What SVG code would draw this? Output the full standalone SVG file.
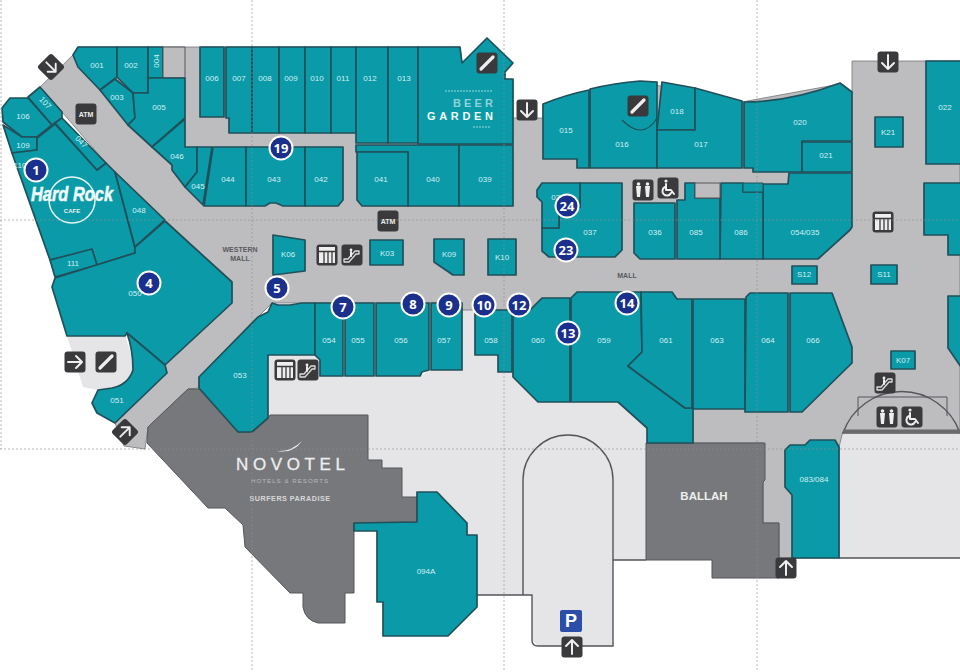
<svg xmlns="http://www.w3.org/2000/svg" width="960" height="672" viewBox="0 0 960 672">
<style>
.shop{fill:#0a9aa8;stroke:#20505a;stroke-width:1.7;stroke-linejoin:round}
.mall{fill:#bdbdc0;stroke:#77777b;stroke-width:.8}
.light{fill:#e5e5e7}
.edge{fill:none;stroke:#55565a;stroke-width:1.4}
.bldg{fill:#77787b;stroke:#55565a;stroke-width:1}
.l{font:500 8px "Liberation Sans",Arial,sans-serif;fill:#dff6f8;text-anchor:middle;dominant-baseline:central;opacity:.95}
.d{font:700 7px "Liberation Sans",Arial,sans-serif;fill:#59595c;text-anchor:middle}
.n{fill:#1b2f8c;stroke:#fff;stroke-width:2}
.nt{font:700 13px "Open Sans","Liberation Sans",sans-serif;fill:#fff;text-anchor:middle;dominant-baseline:central}
.w{fill:#eee;text-anchor:middle;font-family:"Liberation Sans",Arial,sans-serif}
.g{fill:none;stroke:#8c8c90;stroke-width:1;stroke-dasharray:2 2;opacity:.6}
.ic{fill:#3a3a3d}
.gl{fill:none;stroke:#eee;stroke-width:2;stroke-linecap:round;stroke-linejoin:round}
.gf{fill:#eee}
</style>
<defs>
<rect id="sq" class="ic" x="-10.5" y="-10.5" width="21" height="21" rx="3"/>
<g id="i-down"><use href="#sq"/><path class="gl" d="M0-7V7M-6,1L0,7L6,1"/></g>
<g id="i-up"><use href="#sq"/><path class="gl" d="M0,7V-7M-6,-1L0,-7L6,-1"/></g>
<g id="i-right"><use href="#sq"/><path class="gl" d="M-7,0H7M1,-6L7,0L1,6"/></g>
<g id="i-slash"><use href="#sq"/><path fill="none" stroke="#eee" stroke-width="3.2" stroke-linecap="round" d="M-6,6L6,-6"/></g>
<g id="i-esc"><use href="#sq"/><path fill="none" stroke="#ddd" stroke-width="1.3" stroke-linejoin="round" d="M-8,4H-4L3,-4H7V-1H4L-3,7H-8Z"/><circle class="gf" cx="-1" cy="-5" r="1.4"/><path class="gl" stroke-width="1.3" d="M-1-3V1"/></g>
<g id="i-wc"><use href="#sq"/><circle class="gf" cx="-4.5" cy="-6" r="1.8"/><circle class="gf" cx="4.5" cy="-6" r="1.8"/><path class="gf" d="M-7-4H-2L-3,7H-6ZM2-4H7L6,7H3Z"/></g>
<g id="i-acc"><use href="#sq"/><circle class="gf" cx="-2" cy="-7" r="1.6"/><path class="gl" stroke-width="1.5" d="M-2-4V2H3L6,6M-3,-1A4.5,4.5,0,1,0,3,5"/></g>
<g id="i-lift"><rect class="ic" x="-10.5" y="-10.5" width="21" height="21" rx="3"/><rect x="-8" y="-8" width="16" height="16" fill="#eee"/><path stroke="#3a3a3d" stroke-width="1.3" d="M-8-3.5H8M-3-3V8M1-3V8M5-3V8"/></g>
<g id="i-atm"><use href="#sq"/><text class="w" y="2.5" font-size="7" font-weight="700">ATM</text></g>
</defs>

<rect width="960" height="672" fill="#fff"/>

<g id="ground">
<path class="light" d="M67,336H125L130,350L133,370Q128,385 112,388L98,390L83,387Z"/>
<path class="light" d="M268,355H320V376H420L430,370H462V310H475V354H497V372H560V400H646V560H613V595H420V510H360V415H268Z"/>
<path class="light" d="M532,590H613V646H538L532,640Z"/>
<rect class="light" x="838" y="428" width="122" height="130"/>
<path class="mall" d="M40,87L73,55L78,47H460L462,63H487L505,79L513,80V118H543V104L640,82L742,102L840,84L852,92V61H960V431H843L839,447V558H779V523H763V443H693V310H513H462V303H272L258,317L199,377V388L188,389L148,427L145,449L124,446L115,423L167,373L165,365L232,303V282L165,220L115,172L106,163L62,112Z"/>
<path class="edge" d="M490,595H532V640Q532,646 538,646H613V560H646M523,595V480A45,45,0,0,1,613,480V560M477,595H490M839,558H960"/>
<path fill="#bdbdc0" stroke="#55565a" stroke-width="1.4" d="M843,433A62,62,0,0,1,960,433Z"/>
<path fill="none" stroke="#6a6a6d" stroke-width="3" d="M843,431H960"/>
<path fill="none" stroke="#55565a" stroke-width="1" d="M858,416V397H947V416"/>
</g>

<g id="buildings">
<path class="bldg" id="novotel" d="M148,427L188,389H199L238,432H252L268,418L270,415H368V460H382V468H402V497H417V522L354,523V593H345V623H318Q305,620 303,607V593H290L245,547L243,525L225,508H208L147,443Z"/>
<path class="bldg" id="ballah" d="M646,443H765V480L763,482V523H779V578H712V560H646Z"/>
</g>

<g id="shops">
<path class="shop" id="s001" d="M73,55L78,47H117V77L100,90L78,67Z"/>
<path class="shop" id="s002" d="M117,47H148V93H133L117,77Z"/>
<path class="shop" id="s004" d="M148,47H163V78H148Z"/>
<path fill="#bdbdc0" stroke="#55565a" d="M163,47H185V78H163Z"/>
<path class="shop" id="s003" d="M100,90L115,79L133,93L135,118L128,125Z"/>
<path class="shop" id="s005" d="M133,93H148V78H185V118L152,147L128,125L135,118Z"/>
<path class="shop" id="s046" d="M152,147L185,119V147H197V172L185,187L172,170V165Z"/>
<path class="shop" id="s045" d="M197,147H212L203,205L185,187L197,172Z"/>
<path class="shop" id="s044" d="M213,147H246V206H204Z"/>
<path class="shop" id="s043" d="M246,147H305V206H283L276,203H270L265,206H246Z"/>
<path class="shop" id="s042" d="M305,147H343V200L338,206H305Z"/>
<path class="shop" id="s006" d="M200,47H224V117H200Z"/>
<path class="shop" id="s007" d="M226,47H252V133H229V118H226Z"/>
<path class="shop" id="s008" d="M252,47H279V133H252Z"/>
<path class="shop" id="s009" d="M279,47H305V133H279Z"/>
<path class="shop" id="s010" d="M305,47H331V133H305Z"/>
<path class="shop" id="s011" d="M331,47H356V133H331Z"/>
<path class="shop" id="s012" d="M356,47H388V143H356Z"/>
<path class="shop" id="s013" d="M388,47H418V143H388Z"/>
<path class="shop" id="beer-garden" d="M418,47H460L462,63L487,38L513,63L505,72V79H513V144H418Z"/>
<path class="shop" id="s040" d="M356,145H459V206H408V152H356Z"/>
<path class="shop" id="s041" d="M357,152H408V206H362L357,200Z"/>
<path class="shop" id="s039" d="M459,145H513V206H459Z"/>
<path class="shop" id="s015" d="M543,104Q565,95 589,90V168H577V159H543Z"/>
<path class="shop" id="s016" d="M590,89Q615,83 640,81L657,82V168H590Z"/>
<path class="shop" id="s018" d="M662,82L695,88V130H657Z"/>
<path class="shop" id="s017" d="M657,130H695V88L742,101V168H657Z"/>
<path class="shop" id="s020" d="M744,102Q790,102 840,83L852,92V141H802V172H753V168H744Z"/>
<path class="shop" id="s021" d="M802,142H852V172H802Z"/>
<path class="shop" id="s054-035" d="M789,173H852V227L850,230L818,259H763V184H788Z"/>
<path class="shop" id="s086" d="M721,183H743V192H763V259H720Z"/>
<path fill="#0a9aa8" stroke="#20505a" d="M743,183H763V192H743Z"/>
<path class="shop" id="s085" d="M677,200H685V183H695V198H720V259H677Z"/>
<path fill="#bdbdc0" stroke="#55565a" d="M695,183H720V198H695Z"/>
<path class="shop" id="s036" d="M634,203H675V259H640L634,253Z"/>
<path class="shop" id="s037" d="M580,183H622V250L615,257H549L542,251V228H559V215L580,207Z"/>
<path class="shop" id="s038" d="M542,183H580V207L559,215V228H542V202L537,197V190Z"/>
<path class="shop" id="k21" d="M875,117H903V147H875Z"/>
<path class="shop" id="s022" d="M926,61H961V164H926Z"/>
<path class="shop" id="e1" d="M924,183H961V255H948V235H924Z"/>
<path class="shop" id="e2" d="M948,296H961V367L948,348Z"/>
<path class="shop" id="k06" d="M273,235L305,240V271L273,275Z"/>
<path class="shop" id="k03" d="M370,240H403V265H370Z"/>
<path class="shop" id="k09" d="M434,239H464V275H453L434,262Z"/>
<path class="shop" id="k10" d="M488,239H516V275H488Z"/>
<path class="shop" id="s12" d="M792,266H817V284H792Z"/>
<path class="shop" id="s11" d="M871,265H897V284H871Z"/>
<path class="shop" id="k07" d="M891,351H915V369H891Z"/>
<path class="shop" id="s106" d="M2,108L10,98H28L52,125L37,137H22L3,122Z"/>
<path class="shop" id="s107" d="M28,97L40,87L62,112V118L52,125Z"/>
<path class="shop" id="s109" d="M3,125L22,137H37V150L12,153Z"/>
<path class="shop" id="hard-rock" d="M12,153L37,150V138L55,124L97,170L106,163L115,172L135,248V253L97,265L92,250L50,260Z"/>
<path class="shop" id="s047" d="M55,123L62,118L106,163L97,170Z"/>
<path class="shop" id="s111" d="M50,260L92,249L97,265L55,277Z"/>
<path class="shop" id="s048" d="M115,172L165,220L135,247Z"/>
<path class="shop" id="s050" d="M135,253V247L165,221L232,282V303L165,365L127,333L125,336H67L52,287L55,278Z"/>
<path class="shop" id="s051" d="M127,333L165,365L167,373L115,423L97,413L92,403L98,390L112,388Q128,385 133,370Q133,350 127,333Z"/>
<path class="shop" id="s053" d="M272,303L278,305H290L302,303H315V355H268V418L252,432H238L199,388V377L258,317L268,312Z"/>
<path class="shop" id="s054" d="M315,303H343V376H320V360L315,355Z"/>
<path class="shop" id="s055" d="M345,303H374V376H345Z"/>
<path class="shop" id="s056" d="M376,303H429V370L422,372L420,376H376Z"/>
<path class="shop" id="s057" d="M431,303H462V370H431Z"/>
<path class="shop" id="s058" d="M475,310H512V372H498V355H475Z"/>
<path class="shop" id="s060" d="M513,310H530L542,298H570V402H538L513,377Z"/>
<path class="shop" id="s059" d="M571,298L577,292H641L642,352L628,366L685,408H693V443H647V428L618,402H571Z"/>
<path class="shop" id="s061" d="M641,292H672L677,299H692V408H685L640,375L628,366L642,352Z"/>
<path class="shop" id="s063" d="M693,299H745V409H693Z"/>
<path class="shop" id="s064" d="M746,297L750,293H788V412H745Z"/>
<path class="shop" id="s066" d="M790,293H832L852,347V363L802,412H790Z"/>
<path class="shop" id="s083-084" d="M785,450L790,445H805L810,440H835L839,447V558H792V495L785,487Z"/>
<path class="shop" id="s094a" d="M417,492H437L467,523V535H477V607L448,636H383V602H377V531H354V523L417,522Z"/>
<path fill="none" stroke="#20505a" stroke-width="1.2" d="M622,120Q632,130 640,130Q650,130 657,118"/>
</g>

<g id="labels">
<text class="l" x="97" y="65">001</text><text class="l" x="131" y="65">002</text>
<text class="l" transform="translate(156,61) rotate(-90)">004</text>
<text class="l" x="117" y="97">003</text><text class="l" x="159" y="107">005</text><text class="l" x="177" y="156">046</text>
<text class="l" x="198" y="186">045</text><text class="l" x="228" y="179">044</text><text class="l" x="274" y="179">043</text><text class="l" x="321" y="179">042</text>
<text class="l" transform="translate(81,142) rotate(48)">047</text><text class="l" transform="translate(45,103) rotate(48)">107</text>
<text class="l" x="23" y="116">106</text><text class="l" x="23" y="145">109</text><text class="l" x="20" y="165">110</text>
<text class="l" x="139" y="210">048</text><text class="l" x="73" y="263">111</text><text class="l" x="135" y="293">050</text>
<text class="l" x="212" y="78">006</text><text class="l" x="239" y="78">007</text><text class="l" x="265" y="78">008</text><text class="l" x="291" y="78">009</text>
<text class="l" x="317" y="78">010</text><text class="l" x="343" y="78">011</text><text class="l" x="370" y="78">012</text><text class="l" x="404" y="78">013</text>
<text class="l" x="566" y="130">015</text><text class="l" x="622" y="144">016</text><text class="l" x="677" y="111">018</text><text class="l" x="701" y="144">017</text>
<text class="l" x="800" y="122">020</text><text class="l" x="826" y="155">021</text><text class="l" x="945" y="107">022</text><text class="l" x="888" y="132">K21</text>
<text class="l" x="381" y="179">041</text><text class="l" x="433" y="179">040</text><text class="l" x="485" y="179">039</text>
<text class="l" x="558" y="197">038</text><text class="l" x="590" y="232">037</text><text class="l" x="655" y="232">036</text>
<text class="l" x="696" y="232">085</text><text class="l" x="741" y="232">086</text><text class="l" x="805" y="232">054/035</text>
<text class="l" x="288" y="254">K06</text><text class="l" x="387" y="253">K03</text><text class="l" x="449" y="254">K09</text><text class="l" x="502" y="257">K10</text>
<text class="l" x="804" y="274">S12</text><text class="l" x="884" y="274">S11</text><text class="l" x="903" y="360">K07</text>
<text class="l" x="329" y="340">054</text><text class="l" x="358" y="340">055</text><text class="l" x="401" y="340">056</text><text class="l" x="444" y="340">057</text>
<text class="l" x="491" y="340">058</text><text class="l" x="538" y="340">060</text><text class="l" x="604" y="340">059</text><text class="l" x="666" y="340">061</text>
<text class="l" x="717" y="340">063</text><text class="l" x="768" y="340">064</text><text class="l" x="813" y="340">066</text>
<text class="l" x="240" y="375">053</text><text class="l" x="117" y="400">051</text><text class="l" x="814" y="479">083/084</text><text class="l" x="426" y="571">094A</text>
<text class="d" x="240" y="252">WESTERN</text><text class="d" x="240" y="261">MALL</text><text class="d" x="627" y="278">MALL</text>

<g id="hard-rock-logo">
<circle cx="72" cy="200" r="23" fill="none" stroke="#e8f8f9" stroke-width="1.5"/>
<text class="w" x="72" y="201" font-size="20" font-weight="700" font-style="italic" textLength="82" lengthAdjust="spacingAndGlyphs" stroke="#f2fbfc" stroke-width=".5" paint-order="stroke" style="fill:#f2fbfc">Hard Rock</text>
<text class="w" x="72" y="213" font-size="6" font-weight="700">CAFE</text>
</g>
<g id="beer-garden-logo">
<text class="w" x="473" y="107" font-size="11" textLength="40" font-weight="700" style="fill:#8fd3d9">BEER</text>
<text class="w" x="460" y="120" font-size="11" textLength="66" font-weight="700" style="fill:#f2fbfc">GARDEN</text>
<path d="M445,91H492M473,127H490" stroke="#9adbe0" stroke-width="1.2" stroke-dasharray="2 1" fill="none"/>
</g>
<g id="novotel-logo">
<path d="M277,451Q291,452 302,441Q293,454 277,451Z" fill="#eee"/>
<text class="w" x="290.500" y="470" font-size="17" textLength="109" stroke="#eee" stroke-width=".3">NOVOTEL</text>
<text class="w" x="290" y="483" font-size="6.2" letter-spacing="1" style="fill:#b9b9bc">HOTELS &amp; RESORTS</text>
<text class="w" x="290" y="501" font-size="7.2" letter-spacing=".5" font-weight="700" style="fill:#d8d8da">SURFERS PARADISE</text>
</g>
<text class="w" x="704" y="500" font-size="11.500" font-weight="700">BALLAH</text>
</g>

<g id="icons">
<use href="#i-down" transform="translate(51,67) rotate(-45) scale(.95)"/>
<use href="#i-atm" x="86" y="114"/>
<use href="#i-slash" x="487" y="63"/>
<use href="#i-down" x="527" y="110"/>
<use href="#i-slash" x="638" y="106"/>
<use href="#i-atm" x="388" y="221"/>
<use href="#i-lift" x="327" y="255"/><use href="#i-esc" x="352" y="255"/>
<use href="#i-wc" x="643" y="190"/><use href="#i-acc" x="668" y="188"/>
<use href="#i-down" x="888" y="62"/>
<use href="#i-lift" x="883" y="222"/>
<use href="#i-esc" x="885" y="383"/>
<use href="#i-wc" x="887" y="417"/><use href="#i-acc" x="912" y="417"/>
<use href="#i-right" x="75" y="362"/><use href="#i-slash" x="106" y="362"/>
<use href="#i-up" transform="translate(125,432) rotate(45) scale(.95)"/>
<use href="#i-lift" x="285" y="370"/><use href="#i-esc" x="308" y="370"/>
<use href="#i-up" x="786" y="568"/>
<use href="#i-up" x="572" y="647"/>
<g id="parking"><rect x="560" y="610" width="22" height="22" rx="2" fill="#2b4ea8"/><text class="w" x="571" y="627" font-size="18" font-weight="700" style="fill:#fff">P</text></g>
</g>

<g id="badges">
<g id="b1"><circle class="n" cx="36" cy="170" r="11.5"/><text class="nt" x="36" y="170">1</text></g>
<g id="b19"><circle class="n" cx="281" cy="148" r="11.5"/><text class="nt" x="281" y="148">19</text></g>
<g id="b24"><circle class="n" cx="567" cy="206" r="11.5"/><text class="nt" x="567" y="206">24</text></g>
<g id="b23"><circle class="n" cx="566" cy="250" r="11.5"/><text class="nt" x="566" y="250">23</text></g>
<g id="b4"><circle class="n" cx="149" cy="283" r="11.5"/><text class="nt" x="149" y="283">4</text></g>
<g id="b5"><circle class="n" cx="277" cy="288" r="11.5"/><text class="nt" x="277" y="288">5</text></g>
<g id="b7"><circle class="n" cx="343" cy="307" r="11.5"/><text class="nt" x="343" y="307">7</text></g>
<g id="b8"><circle class="n" cx="413" cy="304" r="11.5"/><text class="nt" x="413" y="304">8</text></g>
<g id="b9"><circle class="n" cx="449" cy="305" r="11.5"/><text class="nt" x="449" y="305">9</text></g>
<g id="b10"><circle class="n" cx="484" cy="305" r="11.5"/><text class="nt" x="484" y="305">10</text></g>
<g id="b12"><circle class="n" cx="519" cy="305" r="11.5"/><text class="nt" x="519" y="305">12</text></g>
<g id="b13"><circle class="n" cx="568" cy="333" r="11.5"/><text class="nt" x="568" y="333">13</text></g>
<g id="b14"><circle class="n" cx="627" cy="303" r="11.5"/><text class="nt" x="627" y="303">14</text></g>
</g>

<path class="g" id="guides" d="M252,0V672M504,0V672M757,0V672M0,220H960M0,449H960M1,0V449"/>
</svg>
